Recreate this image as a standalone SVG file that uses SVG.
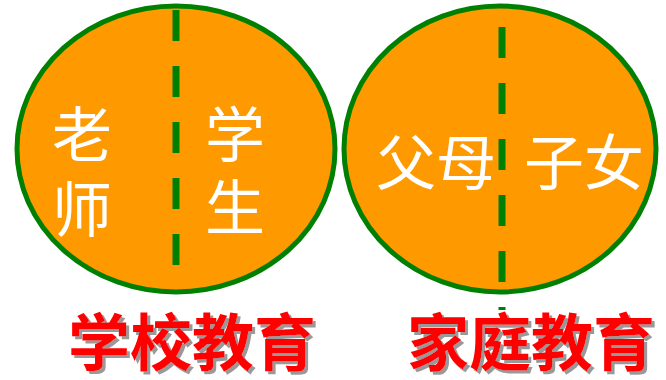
<svg xmlns="http://www.w3.org/2000/svg" width="666" height="380" viewBox="0 0 666 380">
<defs>
<filter id="shadow" filterUnits="userSpaceOnUse" x="0" y="290" width="666" height="90">
<feFlood flood-color="#999999" result="c"/>
<feComposite in="c" in2="SourceAlpha" operator="in" result="s"/>
<feOffset in="s" dx="3" dy="3" result="o"/>
<feMerge><feMergeNode in="o"/><feMergeNode in="SourceGraphic"/></feMerge>
</filter>
</defs>
<style>
.circle{fill:#FF9900;stroke:#008000;stroke-width:5}
.div{stroke:#008000;stroke-width:7;stroke-dasharray:31 25;fill:none}
.lbl{font-family:"Noto Sans CJK SC","Noto Sans",sans-serif;font-size:60px;fill:#FFFFFF;text-anchor:middle}
.title{font-family:"Noto Sans CJK SC","Noto Sans",sans-serif;font-size:62px;font-weight:700;fill:#FF0000;filter:url(#shadow)}
</style>
<rect width="666" height="380" fill="#FFFFFF"/>
<g id="school">
<ellipse class="circle" cx="176" cy="149" rx="159" ry="143"/>
<text class="lbl" x="82" y="157">老<tspan x="82" y="232">师</tspan></text>
<text class="lbl" x="235" y="157">学<tspan x="235" y="230">生</tspan></text>
</g>
<g id="family">
<ellipse class="circle" cx="500" cy="149" rx="156" ry="143"/>
<text class="lbl" x="436" y="185">父母</text>
<text class="lbl" x="584" y="185">子女</text>
</g>
<g id="connectors">
<line class="div" x1="176" y1="10" x2="176" y2="292"/>
<line class="div" x1="502" y1="27" x2="502" y2="310"/>
</g>
<g id="title-school">
<text class="title" x="68" y="366">学校教育</text>
</g>
<g id="title-family">
<text class="title" x="407" y="366">家庭教育</text>
</g>
</svg>
